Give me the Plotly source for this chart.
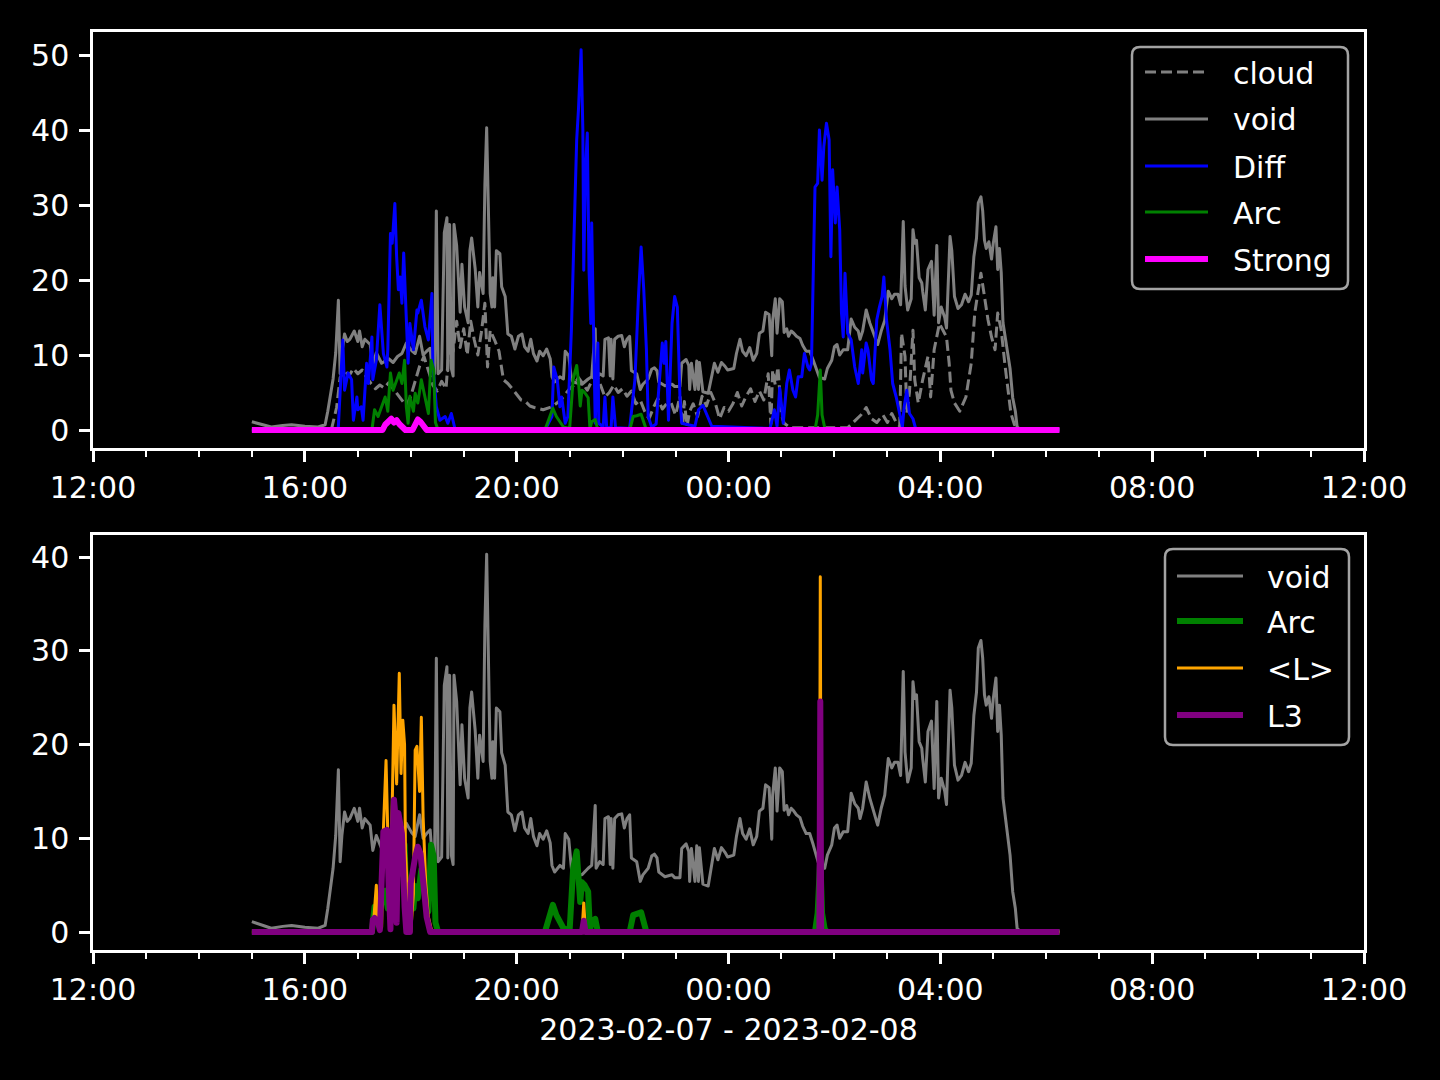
import plotly.graph_objects as go

# ---------------- data (times HH:MM; >=12h -> 2023-02-07, else 2023-02-08) ----------------
void_t = ["15:00","15:10","15:22","15:35","15:45","16:00","16:15","16:23","16:26","16:32","16:35","16:38","16:40","16:42",
          "16:45","16:48","16:51","16:56","17:00","17:02","17:05","17:08","17:11","17:14","17:17","17:21","17:27","17:30",
          "17:35","17:40","17:45","17:50","17:55","18:01","18:05","18:10","18:14","18:18","18:22","18:24","18:27","18:29",
          "18:31","18:35","18:38","18:41","18:42","18:44","18:46","18:48","18:49","18:52","18:56","18:58","19:01","19:05",
          "19:07","19:09","19:13","19:16","19:18","19:22","19:24","19:26","19:28","19:30","19:32","19:33","19:35","19:37",
          "19:41","19:43","19:47","19:50","19:54","19:58","20:02","20:06","20:09","20:13","20:16","20:19","20:23","20:26",
          "20:30","20:34","20:38","20:40","20:43","20:49","20:53","20:55","20:59","21:02","21:04","21:14","21:21","21:25",
          "21:29","21:30","21:34","21:38","21:40","21:44","21:46","21:47","21:49","21:51","21:55","21:59","22:02","22:05",
          "22:08","22:10","22:16","22:20","22:23","22:29","22:33","22:36","22:39","22:41","22:48","22:56","22:59","23:05",
          "23:07","23:12","23:15","23:16","23:18","23:22","23:24","23:26","23:27","23:31","23:37","23:41","23:44","23:48",
          "23:52","23:56","23:59","00:06","00:09","00:13","00:16","00:20","00:24","00:28","00:32","00:35","00:39","00:42",
          "00:46","00:49","00:50","00:53","00:55","00:58","01:01","01:03","01:06","01:08","01:11","01:14","01:17","01:21",
          "01:24","01:28","01:32","01:36","01:40","01:43","01:49","01:52","01:57","02:00","02:03","02:06","02:10","02:15",
          "02:19","02:23","02:27","02:29","02:32","02:36","02:40","02:46","02:49","02:53","02:57","03:01","03:05","03:08",
          "03:12","03:15","03:18","03:20","03:23","03:27","03:29","03:31","03:33","03:36","03:39","03:40","03:43","03:46",
          "03:50","03:53","03:56","03:58","04:01","04:05","04:07","04:11","04:13","04:16","04:20","04:24","04:28","04:32",
          "04:35","04:38","04:41","04:43","04:46","04:48","04:50","04:52","04:55","04:58","05:00","05:03","05:05","05:07",
          "05:09","05:11","05:15","05:19","05:22","05:25","05:27","05:30","06:15"]
void_v = [1.1,0.8,0.4,0.6,0.7,0.5,0.4,0.7,2.5,6.8,10.3,17.3,7.5,10.3,
          12.8,11.8,12.1,13.2,11.8,13.2,11.1,12.1,11.8,11.4,8.7,10.3,8.9,9.1,
          9.5,9.0,9.8,10.2,11.6,10.6,10.2,12.5,10.0,10.5,10.9,8.4,7.5,29.2,
          7.5,8.0,26.3,28.3,7.9,27.4,8.2,7.2,27.4,24.6,15.7,22.1,16.4,14.3,
          23.9,25.6,21.5,16.4,21.0,18.2,32.7,40.3,27.4,18.2,16.4,20.3,16.4,23.9,
          23.5,19.1,17.8,12.8,12.5,10.8,12.5,12.8,11.1,10.5,12.1,10.2,9.2,10.5,
          9.9,10.8,9.5,7.1,6.4,7.1,6.8,10.5,9.9,6.8,6.4,6.1,6.8,7.1,
          13.5,6.8,7.5,7.2,12.1,12.3,7.2,12.1,6.8,12.1,12.5,12.6,11.1,12.1,
          12.5,7.9,7.5,5.4,6.1,6.8,8.1,8.3,7.9,6.4,5.9,6.1,5.8,5.8,
          8.9,9.4,8.6,5.4,8.9,5.4,9.2,5.4,9.0,5.1,4.9,7.1,8.9,7.7,
          9.0,8.5,8.0,8.2,10.2,12.1,10.5,9.9,11.0,9.3,10.2,12.9,13.2,15.7,
          15.4,9.9,14.6,17.5,12.9,17.5,17.1,13.0,13.5,12.5,13.2,12.9,12.5,12.2,
          11.3,10.5,10.5,9.3,8.0,7.0,6.8,8.2,9.3,11.1,11.4,10.0,10.7,10.7,
          14.8,13.7,13.2,12.1,13.2,16.0,14.3,12.5,11.4,13.2,14.6,18.5,17.5,18.1,
          18.1,16.7,27.8,19.2,16.0,17.5,26.7,24.9,25.3,20.3,19.6,18.5,16.0,21.4,
          22.5,15.3,24.6,14.3,16.4,15.0,13.6,25.8,23.9,17.8,16.2,16.7,18.1,17.1,
          18.0,23.1,25.6,30.3,31.1,29.2,25.3,24.2,25.1,22.8,24.9,27.1,21.4,24.2,
          21.0,14.3,11.1,8.2,4.3,2.5,0.4,0.1,0.1]

cloud_t = ["15:00","16:30","16:36","16:40","16:45","16:50","16:55","17:00","17:05","17:10","17:15","17:20","17:25","17:30",
           "17:35","17:40","17:45","17:50","17:55","18:00","18:05","18:10","18:15","18:20","18:25","18:30","18:35","18:40",
           "18:45","18:48","18:52","18:56","19:00","19:04","19:08","19:12","19:16","19:20","19:24","19:27","19:30","19:35",
           "19:40","19:45","19:50","19:55","20:00","20:05","20:10","20:15","20:20","20:30","20:40","20:50","21:00","21:05",
           "21:10","21:15","21:20","21:25","21:30","21:35","21:40","21:45","21:50","21:55","22:00","22:05","22:10","22:15",
           "22:20","22:25","22:30","22:35","22:40","22:45","22:50","22:55","23:00","23:05","23:08","23:10","23:13","23:16",
           "23:20","23:25","23:30","23:35","23:40","23:45","23:50","23:55","00:00","00:05","00:10","00:15","00:20","00:25",
           "00:30","00:35","00:40","00:45","00:48","00:50","00:53","00:56","00:58","01:00","01:03","01:10","02:15","02:25",
           "02:30","02:36","02:42","02:48","02:55","03:00","03:05","03:10","03:14","03:16","03:20","03:22","03:25","03:29",
           "03:31","03:35","03:40","03:46","03:49","03:53","03:59","04:03","04:07","04:10","04:12","04:16","04:22","04:29",
           "04:35","04:39","04:43","04:46","04:50","04:54","04:58","05:02","05:05","05:09","05:13","05:17","05:20","05:24",
           "05:28","06:15"]
cloud_v = [0.0,0.0,3.0,7.0,8.0,7.2,8.2,7.5,8.0,7.0,6.2,5.5,6.0,5.6,
           6.3,5.5,4.8,4.0,3.2,4.5,6.5,8.5,9.8,8.0,6.0,5.2,6.5,5.5,
           14.0,10.5,14.5,11.0,13.5,10.0,14.5,12.0,10.0,13.0,16.9,8.4,13.3,12.0,
           10.5,6.7,6.2,5.5,4.8,4.0,3.8,3.2,3.0,2.7,3.1,4.0,5.5,6.0,
           7.0,6.2,5.3,6.5,7.4,6.0,4.4,5.0,6.0,5.0,5.5,4.5,5.2,3.5,
           4.0,2.5,1.5,3.0,4.2,2.8,3.5,3.6,2.0,4.5,0.5,3.8,0.5,2.5,
           3.5,1.8,4.5,3.2,5.0,3.6,1.5,3.0,2.5,3.5,5.0,3.2,4.5,5.5,
           3.8,5.2,4.0,7.5,0.8,8.0,6.0,8.4,5.3,2.0,0.9,0.3,0.3,1.5,
           2.0,3.0,1.5,1.0,2.0,1.0,2.2,1.0,0.5,12.9,9.8,2.2,5.0,13.3,
           6.7,3.6,6.7,9.8,4.4,10.7,14.2,13.3,12.4,8.9,5.3,3.6,2.5,4.4,
           8.9,15.6,18.7,20.9,17.8,14.7,12.4,10.7,15.6,13.3,8.9,5.3,2.2,0.7,
           0.0,0.0]

diff_t = ["15:00","16:37","16:38","16:43","16:45","16:49","16:53","16:55","16:59","17:00","17:04","17:06","17:10","17:12",
          "17:16","17:17","17:21","17:25","17:29","17:33","17:34","17:37","17:39","17:42","17:44","17:46","17:48","17:50",
          "17:52","17:55","17:57","17:59","18:03","18:07","18:08","18:12","18:16","18:20","18:24","18:25","18:29","18:33",
          "18:39","18:42","18:46","18:50","20:32","20:40","20:42","20:46","20:49","20:51","20:55","20:58","21:00","21:02",
          "21:06","21:08","21:10","21:13","21:15","21:16","21:18","21:20","21:22","21:24","21:25","21:27","21:29","21:32",
          "21:33","21:38","21:40","21:42","21:47","21:49","21:52","22:08","22:14","22:18","22:21","22:24","22:27","22:29",
          "22:33","22:38","22:42","22:45","22:47","22:49","22:52","22:53","22:56","22:59","23:02","23:05","23:07","23:22",
          "23:26","23:31","23:35","23:41","00:47","00:52","00:55","00:58","01:02","01:06","01:09","01:13","01:16","01:19",
          "01:23","01:26","01:30","01:32","01:34","01:36","01:38","01:41","01:43","01:46","01:48","01:51","01:54","01:56",
          "01:58","02:01","02:03","02:06","02:08","02:10","02:12","02:14","02:15","02:19","02:23","02:27","02:31","02:32",
          "02:36","02:38","02:42","02:44","02:48","02:51","02:54","02:56","02:59","03:03","03:06","03:10","03:14","03:17",
          "03:19","03:22","03:25","03:29","03:32","06:15"]
diff_v = [0,0,0.5,12.0,5.3,7.6,6.7,1.3,4.4,2.7,3.1,1.3,8.9,6.2,
          12.4,6.7,9.3,16.7,10.2,8.4,10.7,26.2,24.9,30.2,23.1,18.7,20.4,16.9,
          23.6,15.1,8.9,14.2,10.7,16.0,15.6,17.3,13.8,12.0,18.2,8.9,3.1,1.3,
          1.8,0.9,2.2,0.2,0,1.8,8.4,6.7,3.1,4.4,0.9,1.8,7.6,13.3,
          30.2,38.7,42.7,50.7,40.0,21.3,34.7,39.6,21.3,14.2,27.6,11.1,0.9,11.6,
          0.9,0.4,4.4,0.3,0.3,4.4,0.3,0.2,6.7,17.8,24.4,18.7,10.7,1.8,
          0.4,0.8,7.1,11.6,8.9,11.8,1.3,4.4,14.2,17.8,16.4,4.4,0.9,0.5,
          2.7,3.3,2.2,0.5,0.2,2.7,0.5,5.6,0.9,6.2,8.0,5.3,4.4,7.1,
          7.1,10.2,8.4,8.0,8.9,22.2,32.4,32.9,40.0,33.3,37.8,40.9,38.7,23.1,
          34.7,27.6,32.4,26.7,15.6,12.4,20.9,15.6,12.9,12.0,8.4,6.2,10.7,7.6,
          11.6,10.7,6.7,6.2,14.7,16.4,17.8,20.4,14.7,10.7,6.2,4.4,2.2,0.4,
          3.1,5.3,2.2,1.5,0.2,0]

arc_t = ["15:00","17:16","17:19","17:23","17:27","17:31","17:34","17:37","17:40","17:44","17:47","17:50","17:53","17:55",
         "17:57","17:59","18:03","18:05","18:08","18:12","18:16","18:20","18:23","18:26","18:28","18:31","20:32","20:38",
         "20:41","20:45","20:49","20:53","21:00","21:04","21:08","21:10","21:12","21:14","21:17","21:21","21:23","21:25",
         "21:29","21:32","22:08","22:12","22:16","22:21","22:25","22:27","01:38","01:41","01:44","01:46","01:49","01:52",
         "06:15"]
arc_v = [0,0,2.7,1.8,3.1,4.4,2.5,7.6,5.3,6.7,7.6,6.2,9.3,3.1,
         0.9,4.5,2.5,4.9,3.6,6.7,4.5,2.2,9.3,8.0,1.0,0,0,1.8,
         2.9,1.8,1.1,0.4,0.2,6.8,8.6,6.5,3.2,5.3,5.0,4.3,0.2,1.1,
         1.4,0,0,1.8,1.9,2.1,0.7,0,0,2.0,8.0,2.0,0.3,0,
         0]

strong_t = ["15:00","17:28","17:31","17:35","17:38","17:41","17:44","17:47","17:50","17:54","18:02","18:05","18:08","18:11",
            "18:14","18:18","06:15"]
strong_v = [0,0,0.7,1.1,1.5,1.0,1.3,0.8,0.4,0,0,0.9,1.4,1.1,
            0.5,0,0]

lavg_t = ["15:00","17:17","17:21","17:22","17:27","17:29","17:32","17:34","17:38","17:41","17:44","17:47","17:49","17:51",
          "17:53","17:54","17:57","18:00","18:03","18:05","18:07","18:10","18:12","18:14","18:17","18:20","18:24","21:14",
          "21:16","21:18","01:43","01:44","01:45","06:15"]
lavg_v = [0,0,5.0,1.6,0.5,10.9,18.3,10.5,8.0,24.2,15.8,27.6,16.9,22.6,
          20.0,8.7,2.7,0,4.1,19.4,19.8,15.0,22.9,12.3,5.2,1.6,0,0,
          3.1,0,0,37.9,0,0]

l3_t = ["15:00","17:16","17:17","17:19","17:23","17:25","17:29","17:33","17:35","17:37","17:39","17:41","17:43","17:44",
        "17:46","17:50","17:53","17:55","17:59","18:00","18:05","18:08","18:11","18:14","18:18","18:22","21:14","21:16",
        "21:18","01:43","01:44","01:45","06:15"]
l3_v = [0,0,1.3,1.5,1.0,0.2,10.7,10.9,5.0,0.3,9.0,14.1,12.0,1.0,
        12.7,10.5,2.7,0,0,5.2,8.0,9.1,8.4,5.2,1.6,0,0,1.2,
        0,0,24.6,0,0]

top_yticks = [0, 10, 20, 30, 40, 50]
bot_yticks = [0, 10, 20, 30, 40]
x_title = "2023-02-07 - 2023-02-08"


def ts(lst):
    out = []
    for s in lst:
        day = "2023-02-07" if int(s[:2]) >= 12 else "2023-02-08"
        out.append(f"{day} {s}")
    return out


FONT = "DejaVu Sans, Verdana, sans-serif"
FS = 30

# series styles: (name, time list, values, color, width, dash)
top_series = [
    ("cloud", cloud_t, cloud_v, "#808080", 3, "11px,5px"),
    ("void", void_t, void_v, "#808080", 3, "solid"),
    ("Diff", diff_t, diff_v, "#0000ff", 3, "solid"),
    ("Arc", arc_t, arc_v, "#008000", 3, "solid"),
    ("Strong", strong_t, strong_v, "#ff00ff", 6, "solid"),
]
bot_series = [
    ("void", void_t, void_v, "#808080", 3, "solid"),
    ("Arc", arc_t, arc_v, "#008000", 6, "solid"),
    ("&lt;L&gt;", lavg_t, lavg_v, "#ffa500", 3, "solid"),
    ("L3", l3_t, l3_v, "#800080", 6, "solid"),
]

fig = go.Figure()
for name, t, v, c, w, d in top_series:
    fig.add_trace(go.Scatter(x=ts(t), y=v, mode="lines", name=name, xaxis="x", yaxis="y",
                             line=dict(color=c, width=w, dash=d), showlegend=False))
for name, t, v, c, w, d in bot_series:
    fig.add_trace(go.Scatter(x=ts(t), y=v, mode="lines", name=name, xaxis="x2", yaxis="y2",
                             line=dict(color=c, width=w, dash=d), showlegend=False))

# ---- layout geometry (pixels of the 1440x1080 canvas) ----
L, R, T, B = 93, 1364, 32, 950
W_AREA, H_AREA = R - L, B - T


def px(x):
    return (x - L) / W_AREA


def py(y):
    return (B - y) / H_AREA


shapes = []
annotations = []


def legend_box(x0, y0, x1, y1, line_x0, line_x1, text_x, row_y, series):
    r = 8
    path = (f"M {px(x0 + r)},{py(y0)} L {px(x1 - r)},{py(y0)} Q {px(x1)},{py(y0)} {px(x1)},{py(y0 + r)} "
            f"L {px(x1)},{py(y1 - r)} Q {px(x1)},{py(y1)} {px(x1 - r)},{py(y1)} "
            f"L {px(x0 + r)},{py(y1)} Q {px(x0)},{py(y1)} {px(x0)},{py(y1 - r)} "
            f"L {px(x0)},{py(y0 + r)} Q {px(x0)},{py(y0)} {px(x0 + r)},{py(y0)} Z")
    shapes.append(dict(type="path", xref="paper", yref="paper", path=path,
                       fillcolor="black", line=dict(color="#a3a3a3", width=2.5), layer="above"))
    for (name, _t, _v, c, w, d), yy in zip(series, row_y):
        shapes.append(dict(type="line", xref="paper", yref="paper",
                           x0=px(line_x0), x1=px(line_x1), y0=py(yy), y1=py(yy),
                           line=dict(color=c, width=w, dash=d), layer="above"))
        annotations.append(dict(xref="paper", yref="paper", x=px(text_x), y=py(yy + 1),
                                xanchor="left", yanchor="middle", text=name, showarrow=False,
                                font=dict(family=FONT, size=FS, color="white")))


legend_box(1132, 47, 1348, 289, 1145, 1208, 1231, [72, 119, 166, 212, 259], top_series)
legend_box(1165, 549, 1349, 745, 1177, 1243, 1265, [576, 621, 668, 715], bot_series)

axis_common = dict(showline=True, linecolor="white", linewidth=2.5, mirror=True, ticks="outside",
                   ticklen=11, tickwidth=2.5, tickcolor="white", showgrid=False, zeroline=False,
                   tickfont=dict(family=FONT, size=FS, color="white"))
xcommon = dict(axis_common, type="date", range=["2023-02-07 12:00", "2023-02-08 12:00"],
               tick0="2023-02-07 12:00", dtick=4 * 3600 * 1000, tickformat="%H:%M",
               minor=dict(dtick=3600 * 1000, ticklen=6, tickwidth=2, tickcolor="white", ticks="outside"))

top_dom = [py(448), 1.0]
bot_dom = [0.0, py(535)]

fig.update_layout(
    width=1440, height=1080,
    margin=dict(l=L, r=1440 - R, t=T, b=1080 - B),
    paper_bgcolor="black", plot_bgcolor="black",
    font=dict(family=FONT, size=FS, color="white"),
    xaxis=dict(xcommon, domain=[0, 1], anchor="y"),
    yaxis=dict(axis_common, domain=top_dom, anchor="x", range=[-2.4, 53.07], tickvals=top_yticks,
               ticklabelstandoff=4),
    xaxis2=dict(xcommon, domain=[0, 1], anchor="y2",
                title=dict(text=x_title, font=dict(family=FONT, size=FS, color="white"), standoff=14)),
    yaxis2=dict(axis_common, domain=bot_dom, anchor="x2", range=[-1.92, 42.35], tickvals=bot_yticks,
                ticklabelstandoff=4),
    showlegend=False,
    shapes=shapes,
    annotations=annotations,
)

fig.write_html(
    "out.html",
    config={"displayModeBar": False},
    post_script=("document.body.style.margin='0px';document.body.style.background='black';"
                 "document.querySelectorAll('.scatterlayer path.js-line').forEach(function(p){"
                 "p.style.strokeLinejoin='round';});"),
)
